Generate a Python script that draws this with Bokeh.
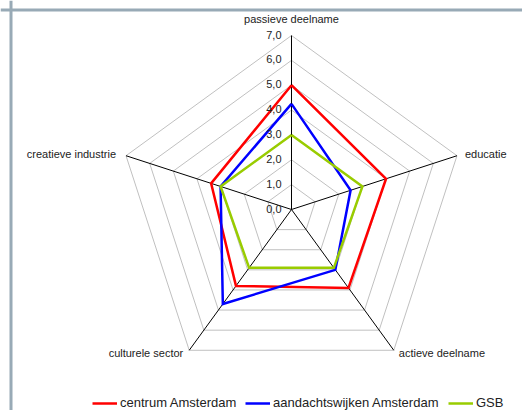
import numpy as np
from bokeh.plotting import figure
from bokeh.models import Range1d, Span, Legend, LegendItem
from bokeh.embed import file_html
from bokeh.resources import INLINE
from bokeh.core.properties import value

# ---- data ----
categories = ["passieve deelname", "educatie", "actieve deelname",
              "culturele sector", "creatieve industrie"]
centrum = [5.0, 4.0, 3.9, 3.8, 3.4]
aandacht = [4.25, 2.5, 3.0, 4.7, 3.0]
gsb = [3.0, 3.0, 2.9, 2.9, 3.0]
series_names = ["centrum Amsterdam", "aandachtswijken Amsterdam", "GSB"]
series_values = [centrum, aandacht, gsb]
ticks = [0, 1, 2, 3, 4, 5, 6, 7]
tick_labels = ["0,0", "1,0", "2,0", "3,0", "4,0", "5,0", "6,0", "7,0"]

# ---- style ----
colors = ["#ff0000", "#0000ff", "#99cc00"]
FONT = "Liberation Sans"
W, H = 522, 410
CX, CY = 291, 209          # centre in figure pixels
K = 174 / 7.0              # pixels per unit
RMAX = max(ticks)

angles = np.deg2rad(90 - 72 * np.arange(len(categories)))

def polar(vals):
    v = np.asarray(vals, dtype=float)
    xs = v * np.cos(angles)
    ys = v * np.sin(angles)
    return list(xs) + [xs[0]], list(ys) + [ys[0]]

p = figure(width=W, height=H, output_backend="svg", toolbar_location=None,
           x_range=Range1d(-CX / K, (W - CX) / K),
           y_range=Range1d(-(H - CY) / K, CY / K),
           min_border=0, background_fill_color="white",
           border_fill_color="white")
p.xaxis.visible = False
p.yaxis.visible = False
p.grid.visible = False
p.outline_line_color = None

# rings
for t in ticks[1:]:
    xs, ys = polar([t] * len(categories))
    p.line(xs, ys, line_color="#c0c0c0", line_width=1)

# spokes
p.segment(x0=[0] * len(categories), y0=[0] * len(categories),
          x1=list(RMAX * np.cos(angles)), y1=list(RMAX * np.sin(angles)),
          line_color="black", line_width=1)

# series
renderers = []
for vals, c in zip(series_values, colors):
    xs, ys = polar(vals)
    r = p.line(xs, ys, line_color=c, line_width=2.5, line_join="miter")
    renderers.append(r)

# tick labels
p.text(x=[0] * len(ticks), y=ticks, text=tick_labels, x_offset=-10, y_offset=-1,
       text_align="right", text_baseline="middle",
       text_font=value(FONT), text_font_size="11px", text_color="#222222")

# category labels
aligns = ["center", "left", "left", "right", "right"]
xoffs = [0, 8, 5, -6, -10]
yoffs = [-17, -2, 3, 3, -2]
for i, cat in enumerate(categories):
    p.text(x=[RMAX * np.cos(angles[i])], y=[RMAX * np.sin(angles[i])], text=[cat],
           x_offset=xoffs[i], y_offset=yoffs[i],
           text_align=aligns[i], text_baseline="middle",
           text_font=value(FONT), text_font_size="11px", text_color="#222222")

# frame border (top and left visible)
border_col = "#98aab6"
p.add_layout(Span(location=(10.5 - CX) / K, dimension="height",
                  line_color=border_col, line_width=3))
p.add_layout(Span(location=(CY - 9.5) / K, dimension="width",
                  line_color=border_col, line_width=3))

# legend (one per item, positioned)
leg_x = [92, 245, 448]
for name, r, lx in zip(series_names, renderers, leg_x):
    lg = Legend(items=[LegendItem(label=name, renderers=[r])],
                location=(lx, 0), orientation="horizontal",
                glyph_width=25, glyph_height=10, label_height=10,
                label_standoff=3, padding=0, margin=0, spacing=0,
                border_line_color=None, background_fill_alpha=0,
                label_text_font=FONT, label_text_font_size="13px",
                label_text_color="#222222")
    p.add_layout(lg, "center")

open("out.html", "w").write(file_html(p, INLINE))
